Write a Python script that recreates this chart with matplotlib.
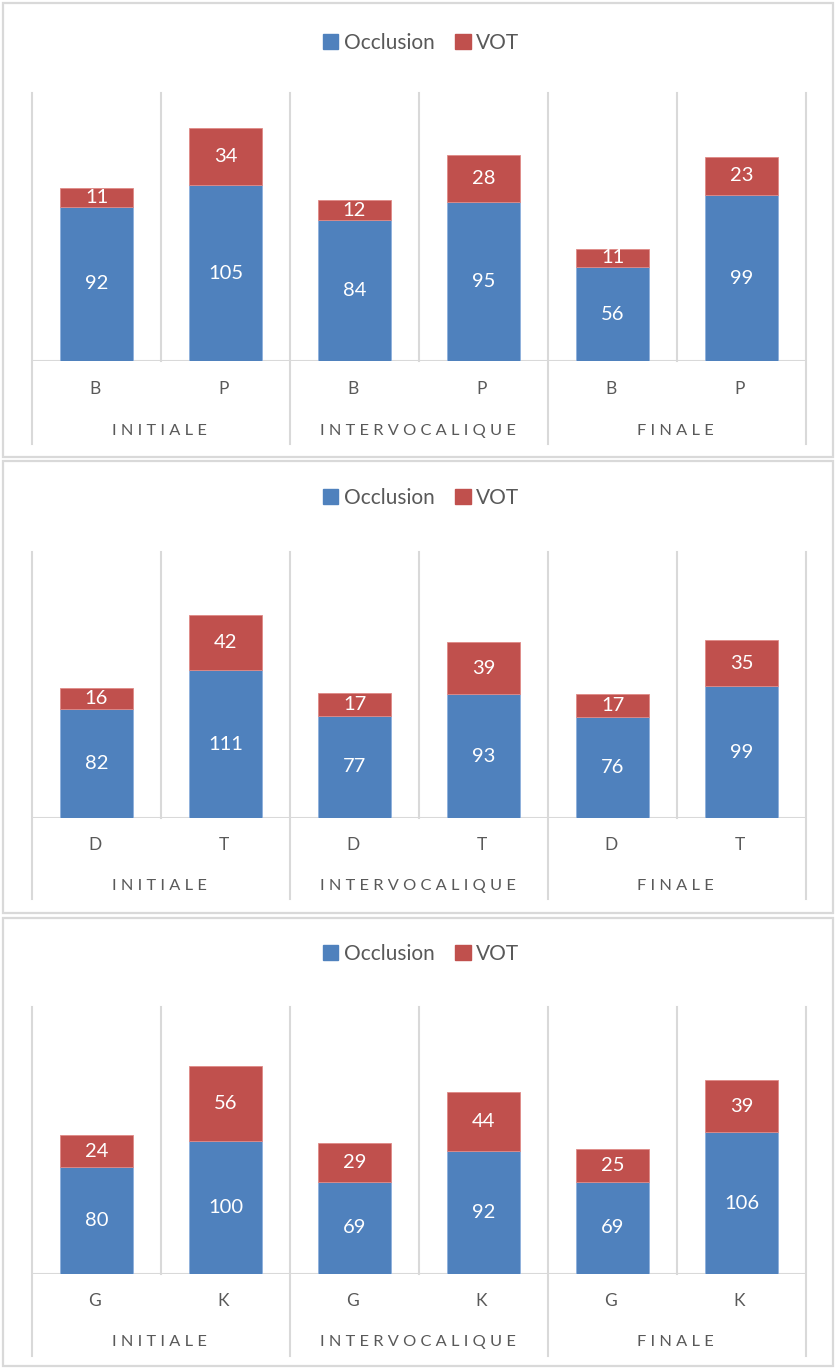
import matplotlib
matplotlib.use("Agg")
import matplotlib.pyplot as plt
from matplotlib.patches import Rectangle, Patch
from matplotlib.transforms import blended_transform_factory

plt.rcParams['font.family'] = ['Lato', 'DejaVu Sans']

groups = ["INITIALE", "INTERVOCALIQUE", "FINALE"]
consonants = [["B", "P"], ["D", "T"], ["G", "K"]]
occlusion = [[92, 105, 84, 95, 56, 99],
             [82, 111, 77, 93, 76, 99],
             [80, 100, 69, 92, 69, 106]]
vot = [[11, 34, 12, 28, 11, 23],
       [16, 42, 17, 39, 17, 35],
       [24, 56, 29, 44, 25, 39]]
ymax = [160, 200, 200]

W, H = 836, 1369
fig = plt.figure(figsize=(W / 100, H / 100), dpi=100)

BLUE = "#4f81bd"
RED = "#c0504d"
GRID = "#d9d9d9"
TXT = "#595959"

# layout in pixels (from top)
panels = [
    dict(box=(3, 457), leg=43, top=93, base=361, let=389, grp=431, lbot=444),
    dict(box=(461, 913), leg=498, top=552, base=818, let=845, grp=886, lbot=899),
    dict(box=(918, 1366), leg=954, top=1007, base=1274, let=1301, grp=1342, lbot=1356),
]
left, right = 32, 806


def spaced(s):
    return " ".join(list(s))


for i, p in enumerate(panels):
    # panel border
    y0, y1 = p["box"]
    fig.add_artist(Rectangle((3 / W, 1 - y1 / H), 830 / W, (y1 - y0) / H,
                             transform=fig.transFigure, fill=False,
                             edgecolor=GRID, linewidth=1.6))
    ax = fig.add_axes([left / W, 1 - p["base"] / H, (right - left) / W,
                       (p["base"] - p["top"]) / H])
    cats = []
    for gi in range(3):
        cats += consonants[i]
    x = list(range(len(cats)))
    ax.bar(x, occlusion[i], width=0.56, color=BLUE, edgecolor="#8eb0dc",
           linewidth=0.6, zorder=3)
    ax.bar(x, vot[i], bottom=occlusion[i], width=0.56, color=RED,
           edgecolor="#e08a87", linewidth=0.6, zorder=3)
    for xi, o, v in zip(x, occlusion[i], vot[i]):
        ax.text(xi, o / 2, str(o), ha="center", va="center", color="white",
                fontsize=14.5, zorder=4)
        ax.text(xi, o + v / 2, str(v), ha="center", va="center", color="white",
                fontsize=14.5, zorder=4)
    ax.set_xlim(-0.5, 5.5)
    ax.set_ylim(0, ymax[i])
    ax.axis("off")
    hpx = p["base"] - p["top"]
    ext = -(p["lbot"] - p["base"]) / hpx
    for k in range(7):
        xv = k - 0.5
        if k % 2 == 0:
            ax.axvline(xv, ymin=ext, ymax=1, color=GRID, linewidth=1.5,
                       clip_on=False, zorder=1)
        else:
            ax.axvline(xv, ymin=0, ymax=1, color=GRID, linewidth=1.5,
                       clip_on=False, zorder=1)
    ax.axhline(0, color=GRID, linewidth=1.5, zorder=2)
    tr = blended_transform_factory(ax.transData, ax.transAxes)
    for xi, c in zip(x, cats):
        ax.text(xi - 0.015, -(p["let"] - p["base"]) / hpx, c, transform=tr,
                ha="center", va="center", color=TXT, fontsize=12.5)
    for gi, g in enumerate(groups):
        ax.text(2 * gi + 0.49, -(p["grp"] - p["base"]) / hpx, spaced(g),
                transform=tr, ha="center", va="center", color=TXT,
                fontsize=11.8)
    handles = [Patch(facecolor=BLUE, edgecolor=BLUE, label="Occlusion"),
               Patch(facecolor=RED, edgecolor=RED, label="VOT")]
    fig.legend(handles=handles, loc="center", ncol=2,
               bbox_to_anchor=(421 / W, 1 - p["leg"] / H), frameon=False,
               fontsize=15, handlelength=0.75, handleheight=0.75,
               handletextpad=0.25, columnspacing=1.0, labelcolor=TXT)

fig.savefig("out.png", dpi=100)
